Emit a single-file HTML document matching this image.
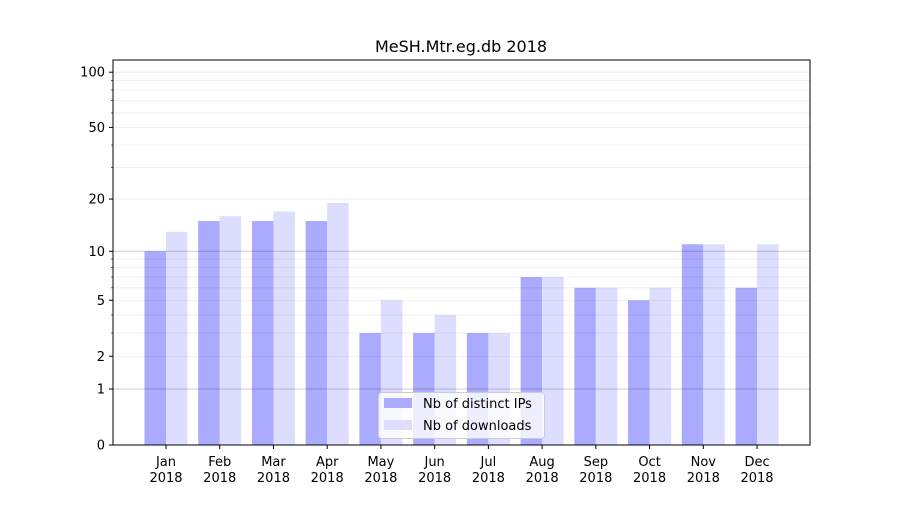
<!DOCTYPE html><html><head><style>body{margin:0;background:#fff}svg{font-family:"DejaVu Sans","Liberation Sans",sans-serif}</style></head><body>
<svg id="s" width="900" height="500" xmlns="http://www.w3.org/2000/svg"></svg>
<script>
const s=document.getElementById('s');let h='<rect width="900" height="500" fill="#fff"/>';
const Y=v=>445-186*Math.log10(1+v);
const minors=[2,3,4,5,6,7,8,9,20,30,40,50,60,70,80,90,100];
const ips=[10,15,15,15,3,3,3,7,6,5,11,6],dl=[13,16,17,19,5,4,3,7,6,6,11,11];
const mo=['Jan','Feb','Mar','Apr','May','Jun','Jul','Aug','Sep','Oct','Nov','Dec'];
for(let i=0;i<12;i++){const c=166+i*53.73;
h+=`<rect x="${c-21.5}" y="${Y(ips[i])}" width="21.5" height="${445-Y(ips[i])}" fill="#aaaaff"/>`;
h+=`<rect x="${c}" y="${Y(dl[i])}" width="21.5" height="${445-Y(dl[i])}" fill="#ddddff"/>`;
h+=`<line x1="${c}" x2="${c}" y1="445" y2="449" stroke="#000"/>`;
h+=`<text x="${c}" y="466" font-size="13" text-anchor="middle">${mo[i]}</text><text x="${c}" y="482" font-size="13" text-anchor="middle">2018</text>`;}
for(const m of minors){h+=`<line x1="113" x2="810" y1="${Y(m)}" y2="${Y(m)}" stroke="#000" stroke-opacity="0.08" stroke-width="0.8"/>`;}
for(const m of [1,10]){h+=`<line x1="113" x2="810" y1="${Y(m)}" y2="${Y(m)}" stroke="#000" stroke-opacity="0.2" stroke-width="1"/>`;}
for(const [v,l] of [[0,'0'],[1,'1'],[2,'2'],[5,'5'],[10,'10'],[20,'20'],[50,'50'],[100,'100']]){const y=Y(v);
h+=`<line x1="109" x2="113" y1="${y}" y2="${y}" stroke="#000"/><text x="105" y="${y+4.5}" font-size="13" text-anchor="end">${l}</text>`;}
for(const m of minors.filter(m=>![2,5,20,50,100].includes(m))){h+=`<line x1="111" x2="113" y1="${Y(m)}" y2="${Y(m)}" stroke="#000" stroke-width="0.6"/>`;}
h+=`<rect x="113" y="60" width="697" height="385" fill="none" stroke="#000" stroke-width="1"/>`;
h+=`<text x="461" y="52" font-size="16" text-anchor="middle">MeSH.Mtr.eg.db 2018</text>`;
h+=`<rect x="378.5" y="392.5" width="166" height="46" rx="3" fill="#fff" fill-opacity="0.8" stroke="#ccc"/>`;
h+=`<rect x="384" y="398" width="28" height="10" fill="#aaaaff"/><text x="423" y="408" font-size="13">Nb of distinct IPs</text>`;
h+=`<rect x="384" y="420" width="28" height="10" fill="#ddddff"/><text x="423" y="430" font-size="13">Nb of downloads</text>`;
s.innerHTML=h;
</script></body></html>
